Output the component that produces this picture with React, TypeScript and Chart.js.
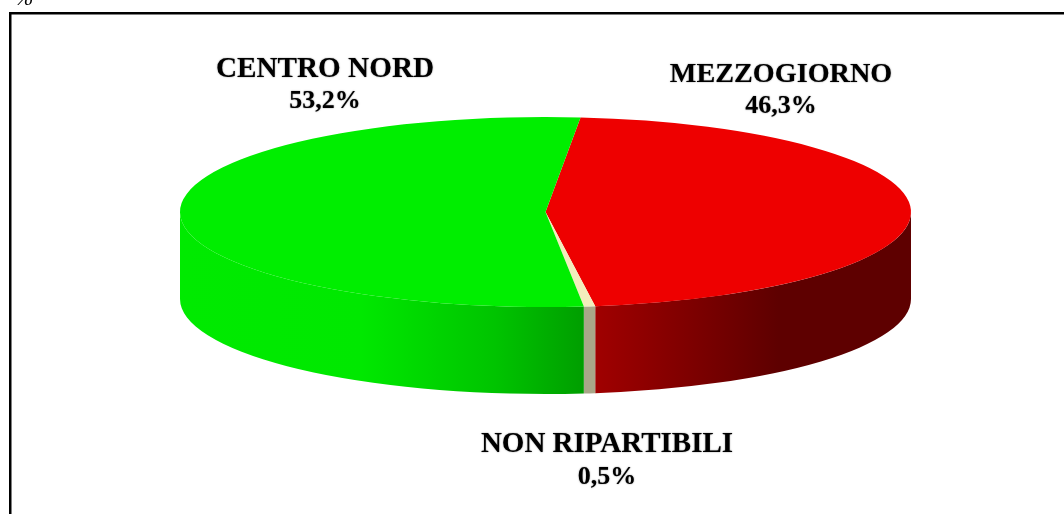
import React, { useEffect, useRef } from "react";
import { Chart, registerables } from "chart.js";

Chart.register(...registerables);

const categories = ["MEZZOGIORNO", "NON RIPARTIBILI", "CENTRO NORD"];
const shares = [46.3, 0.5, 53.2];
const topColors = ["#EE0000", "#F3EDBC", "#00EE00"];
const sideStops: [number, string][][] = [
  [[0, "#A00000"], [0.58, "#5E0000"], [1, "#5E0000"]],
  [[0, "#A9A688"], [1, "#A9A688"]],
  [[0, "#00EA00"], [0.45, "#00E800"], [0.78, "#00C400"], [1, "#009E00"]],
];
const labelSpots = [
  { x: 781, y1: 82, y2: 113, size: 28.2 },
  { x: 607, y1: 452, y2: 484, size: 29 },
  { x: 325, y1: 77, y2: 108, size: 29.2 },
];

const CX = 545.5;
const CY = 212;
const RX = 365.5;
const SQUASH = 0.26;
const DEPTH = 87;

const piePlugin = {
  id: "pie3d",
  beforeDatasetsDraw(chart: any) {
    const { ctx } = chart;
    const arcs = chart.getDatasetMeta(0).data;
    arcs.forEach((arc: any, i: number) => {
      const r = arc.outerRadius;
      const ry = r * SQUASH;
      const a0 = Math.max(arc.startAngle, 0);
      const a1 = Math.min(arc.endAngle, Math.PI);
      const wraps: [number, number][] = [];
      if (a1 > a0) wraps.push([a0, a1]);
      const s = arc.startAngle - Math.PI * 2;
      const e = arc.endAngle - Math.PI * 2;
      if (Math.min(e, Math.PI) > Math.max(s, 0)) wraps.push([Math.max(s, 0), Math.min(e, Math.PI)]);
      wraps.forEach(([from, to]) => {
        const xa = arc.x + r * Math.cos(to);
        const xb = arc.x + r * Math.cos(from);
        const g = ctx.createLinearGradient(xa, 0, xb, 0);
        sideStops[i].forEach(([p, c]) => g.addColorStop(p, c));
        ctx.save();
        ctx.beginPath();
        ctx.ellipse(arc.x, arc.y, r, ry, 0, from, to);
        ctx.ellipse(arc.x, arc.y + DEPTH, r, ry, 0, to, from, true);
        ctx.closePath();
        ctx.fillStyle = g;
        ctx.fill();
        ctx.restore();
      });
    });
    const first = arcs[0];
    ctx.save();
    ctx.translate(first.x, first.y);
    ctx.scale(1, SQUASH);
    ctx.translate(-first.x, -first.y);
  },
  afterDatasetsDraw(chart: any) {
    const { ctx } = chart;
    ctx.restore();
    ctx.save();
    ctx.fillStyle = "#000";
    ctx.fillRect(9, 12, 1055, 2.5);
    ctx.fillRect(9, 12, 2.5, 502);
    ctx.font = 'italic 22px "Liberation Serif"';
    ctx.textAlign = "left";
    ctx.textBaseline = "alphabetic";
    ctx.fillText("%", 15, 5);
    ctx.textAlign = "center";
    ctx.shadowColor = "rgba(0,0,0,0.55)";
    ctx.shadowBlur = 1.5;
    categories.forEach((name, i) => {
      const spot = labelSpots[i];
      ctx.font = `bold ${spot.size}px "Liberation Serif"`;
      ctx.fillText(name, spot.x, spot.y1);
      ctx.font = 'bold 26px "Liberation Serif"';
      ctx.fillText(shares[i].toFixed(1).replace(".", ",") + "%", spot.x, spot.y2);
    });
    ctx.restore();
  },
};

export default function App() {
  const ref = useRef<HTMLCanvasElement>(null);
  useEffect(() => {
    const chart = new Chart(ref.current!, {
      type: "pie",
      data: {
        labels: categories,
        datasets: [
          {
            data: shares,
            backgroundColor: topColors,
            borderWidth: 0,
            clip: false,
          } as any,
        ],
      },
      options: {
        responsive: false,
        animation: false,
        rotation: 5.5,
        radius: RX,
        layout: { padding: { left: 2 * CX - 1064, bottom: 514 - 2 * CY } },
        plugins: { legend: { display: false }, tooltip: { enabled: false } },
      },
      plugins: [piePlugin],
    });
    return () => chart.destroy();
  }, []);
  return (
    <div style={{ position: "fixed", left: 0, top: 0, width: 1064, height: 514, background: "#fff" }}>
      <canvas ref={ref} width={1064} height={514} style={{ display: "block" }} />
    </div>
  );
}
